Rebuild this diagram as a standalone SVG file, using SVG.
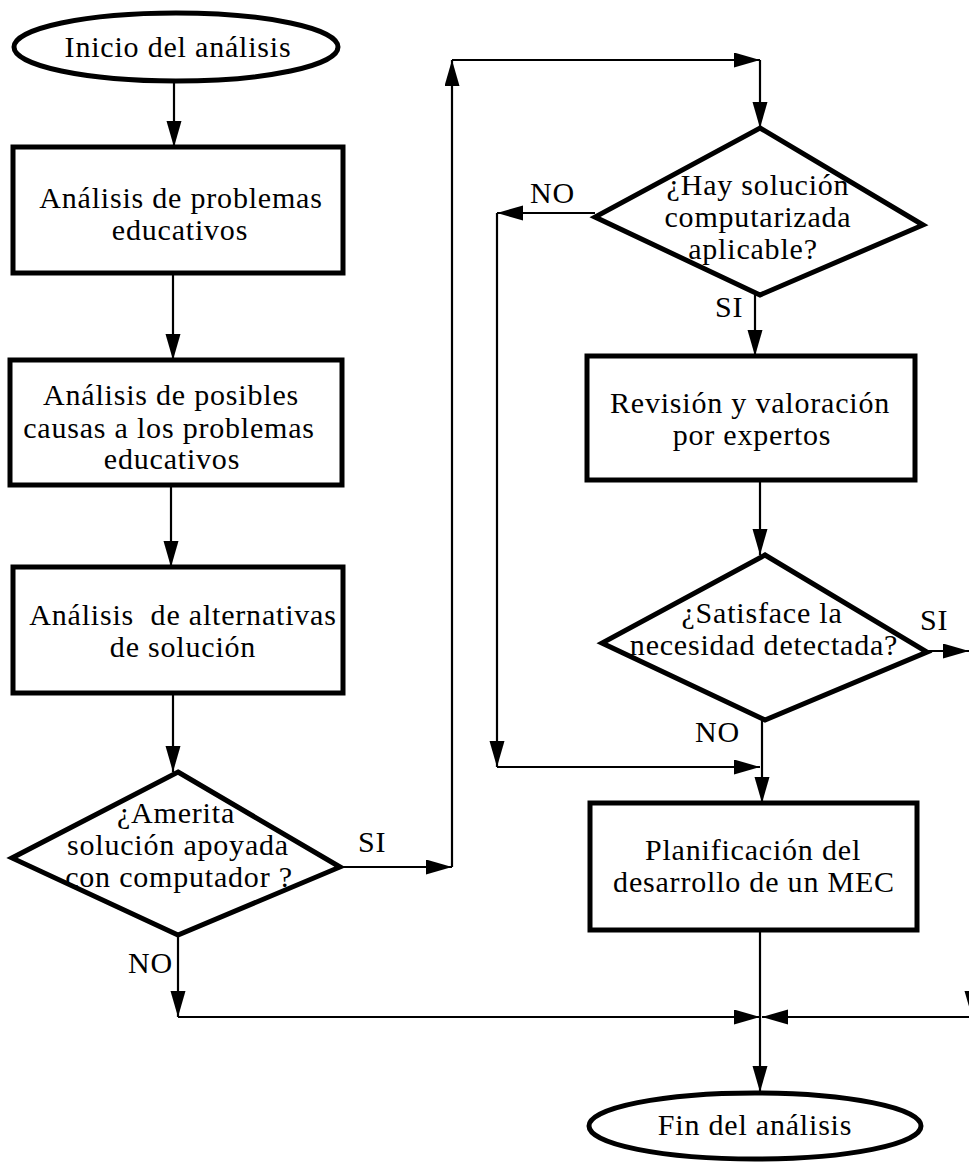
<svg xmlns="http://www.w3.org/2000/svg" width="969" height="1162" viewBox="0 0 969 1162">
<style>
.shape{fill:#fff;stroke:#000;stroke-width:5}
.conn{fill:none;stroke:#000;stroke-width:2.2}
text{font-family:"Liberation Serif","Times New Roman",serif;font-size:30px;letter-spacing:0.8px;fill:#000;white-space:pre}
.m{text-anchor:middle}
</style>
<defs>
<marker id="ah" markerUnits="userSpaceOnUse" markerWidth="28" markerHeight="16" refX="26" refY="7.5" orient="auto">
<path d="M0,0 L26,7.5 L0,15 z" fill="#000"/>
</marker>
</defs>
<rect width="969" height="1162" fill="#fff"/>
<g id="connectors">
<path class="conn" d="M174,82 V147" marker-end="url(#ah)"/>
<path class="conn" d="M173,273 V360" marker-end="url(#ah)"/>
<path class="conn" d="M171,485 V567" marker-end="url(#ah)"/>
<path class="conn" d="M173,693 V772" marker-end="url(#ah)"/>
<path class="conn" d="M340,867 H452" marker-end="url(#ah)"/>
<path class="conn" d="M452,867 V60" marker-end="url(#ah)"/>
<path class="conn" d="M452,60 H760" marker-end="url(#ah)"/>
<path class="conn" d="M760,60 V128" marker-end="url(#ah)"/>
<path class="conn" d="M595,213 H497" marker-end="url(#ah)"/>
<path class="conn" d="M497,213 V767" marker-end="url(#ah)"/>
<path class="conn" d="M497,767 H760" marker-end="url(#ah)"/>
<path class="conn" d="M755,295 V356" marker-end="url(#ah)"/>
<path class="conn" d="M760,480 V555" marker-end="url(#ah)"/>
<path class="conn" d="M927,651 H969" marker-end="url(#ah)"/>
<path class="conn" d="M762,720 V803" marker-end="url(#ah)"/>
<path class="conn" d="M760,930 V1092" marker-end="url(#ah)"/>
<path class="conn" d="M178,935 V1017" marker-end="url(#ah)"/>
<path class="conn" d="M178,1017 H760" marker-end="url(#ah)"/>
<path class="conn" d="M972,1017 H762" marker-end="url(#ah)"/>
<path class="conn" d="M972,651 V1017" marker-end="url(#ah)"/>
</g>
<g id="inicio">
<ellipse class="shape" cx="176" cy="47" rx="162" ry="34"/>
<text class="m" x="178" y="57">Inicio del análisis</text>
</g>
<g id="box1">
<rect class="shape" x="13" y="147" width="330" height="126"/>
<text class="m" x="181" y="208">Análisis de problemas</text>
<text class="m" x="180" y="240">educativos</text>
</g>
<g id="box2">
<rect class="shape" x="10" y="360" width="332" height="125"/>
<text class="m" x="171" y="405">Análisis de posibles</text>
<text class="m" x="169" y="438">causas a los problemas</text>
<text class="m" x="172" y="469">educativos</text>
</g>
<g id="box3">
<rect class="shape" x="13" y="567" width="330" height="126"/>
<text class="m" x="183" y="625">Análisis  de alternativas</text>
<text class="m" x="183" y="657">de solución</text>
</g>
<g id="decision1">
<polygon class="shape" points="178,772 340,867 178,935 12,858"/>
<text class="m" x="176" y="823">¿Amerita</text>
<text class="m" x="178" y="855">solución apoyada</text>
<text class="m" x="179" y="887">con computador ?</text>
<text x="358" y="852">SI</text>
<text x="128" y="973">NO</text>
</g>
<g id="decision2">
<polygon class="shape" points="760,128 923,225 760,295 595,217"/>
<text class="m" x="758" y="195">¿Hay solución</text>
<text class="m" x="758" y="227">computarizada</text>
<text class="m" x="753" y="259">aplicable?</text>
<text x="530" y="203">NO</text>
<text x="715" y="317">SI</text>
</g>
<g id="box4">
<rect class="shape" x="587" y="356" width="328" height="124"/>
<text class="m" x="750" y="413">Revisión y valoración</text>
<text class="m" x="752" y="445">por expertos</text>
</g>
<g id="decision3">
<polygon class="shape" points="765,555 927,652 765,720 602,643"/>
<text class="m" x="762" y="623">¿Satisface la</text>
<text class="m" x="764" y="655">necesidad detectada?</text>
<text x="920" y="630">SI</text>
<text x="695" y="742">NO</text>
</g>
<g id="box5">
<rect class="shape" x="590" y="803" width="327" height="127"/>
<text class="m" x="753" y="860">Planificación del</text>
<text class="m" x="754" y="892">desarrollo de un MEC</text>
</g>
<g id="fin">
<ellipse class="shape" cx="755" cy="1126" rx="166" ry="33"/>
<text class="m" x="755" y="1135">Fin del análisis</text>
</g>
</svg>
